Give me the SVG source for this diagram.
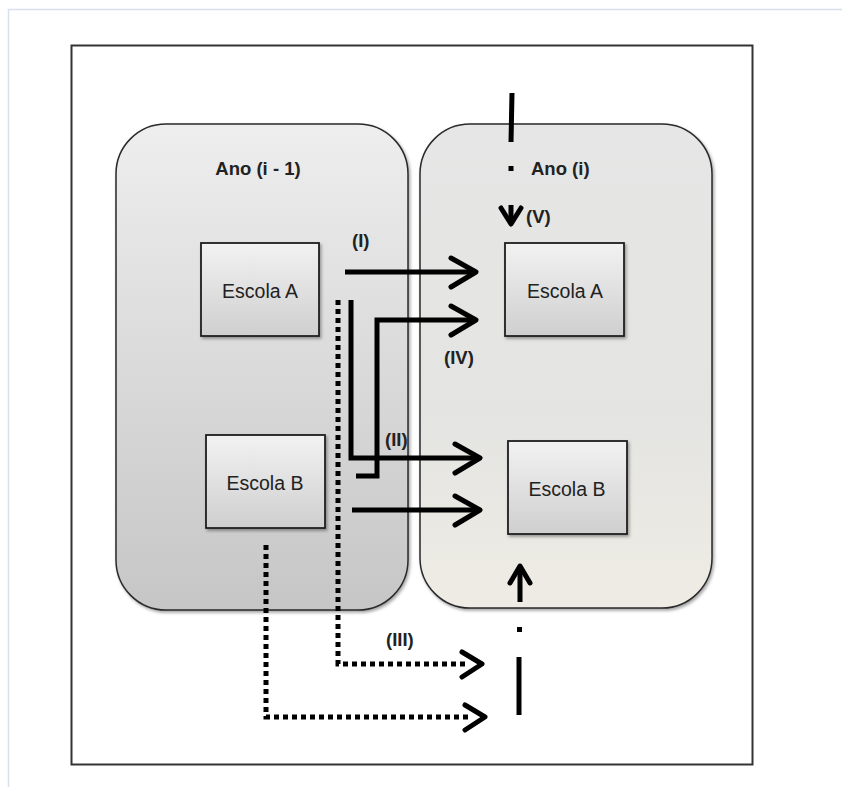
<svg xmlns="http://www.w3.org/2000/svg" width="842" height="787" viewBox="0 0 842 787">
<defs>
<linearGradient id="gL" x1="0" y1="0" x2="0" y2="1"><stop offset="0" stop-color="#eeeeee"/><stop offset="1" stop-color="#c6c6c6"/></linearGradient>
<linearGradient id="gR" x1="0" y1="0" x2="0" y2="1"><stop offset="0" stop-color="#e6e6e6"/><stop offset="0.6" stop-color="#e4e4e2"/><stop offset="1" stop-color="#eeece4"/></linearGradient>
<linearGradient id="gB" x1="0" y1="0" x2="0" y2="1"><stop offset="0" stop-color="#f2f2f2"/><stop offset="1" stop-color="#cfcfcf"/></linearGradient>
<filter id="sh" x="-10%" y="-10%" width="130%" height="130%"><feDropShadow dx="1.5" dy="2" stdDeviation="1.5" flood-color="#000" flood-opacity="0.35"/></filter>
</defs>
<style>
.grp{stroke:#2a2a2a;stroke-width:1.5;filter:url(#sh)}
.box{fill:url(#gB);stroke:#1e1e1e;stroke-width:1.8;filter:url(#sh)}
.t{font-family:"Liberation Sans",Arial,sans-serif;fill:#222;font-size:19.5px;text-anchor:middle}
.bold{font-family:"Liberation Sans",Arial,sans-serif;font-weight:bold;fill:#222;font-size:18.5px}
.c{fill:none;stroke:#000;stroke-width:5}
.d{fill:none;stroke:#000;stroke-width:5;stroke-dasharray:5 4}
.hd{fill:none;stroke:#000;stroke-width:5;stroke-linecap:round;stroke-linejoin:round}
</style>
<rect x="0" y="0" width="842" height="787" fill="#fff"/>
<path d="M8.5,787 L8.5,9.5 L842,9.5" fill="none" stroke="#d8e0ee" stroke-width="1.5"/>
<rect x="71.5" y="45.5" width="681" height="719" fill="#fff" stroke="#333" stroke-width="2"/>

<g id="ano_i1">
<rect class="grp" x="116" y="124" width="292" height="486" rx="50" ry="50" fill="url(#gL)"/>
<text class="bold" x="258" y="175" text-anchor="middle">Ano (i - 1)</text>
</g>
<g id="ano_i">
<rect class="grp" x="420" y="124" width="292" height="484" rx="50" ry="50" fill="url(#gR)"/>
<text class="bold" x="531" y="175">Ano (i)</text>
</g>
<g id="escolaA_left">
<rect class="box" x="201" y="243" width="118" height="93"/>
<text class="t" x="260" y="298">Escola A</text>
</g>
<g id="escolaB_left">
<rect class="box" x="206" y="435" width="119" height="93"/>
<text class="t" x="265" y="490">Escola B</text>
</g>
<g id="escolaA_right">
<rect class="box" x="505" y="243" width="119" height="93"/>
<text class="t" x="565" y="298">Escola A</text>
</g>
<g id="escolaB_right">
<rect class="box" x="508" y="441" width="119" height="93"/>
<text class="t" x="567" y="496">Escola B</text>
</g>

<g id="connectors">
<!-- (I) -->
<path class="c" d="M345,272 L474,272"/>
<path class="hd" d="M451,258 L476,272 L451,287"/>
<text class="bold" x="352" y="247">(I)</text>
<!-- (IV) -->
<path class="c" d="M356,476 L377,476 L377,320 L474,320"/>
<path class="hd" d="M451,306 L476,320 L451,335"/>
<text class="bold" x="444" y="364">(IV)</text>
<!-- (II) -->
<path class="c" d="M351,300 L351,458 L478,458"/>
<path class="hd" d="M455,444 L480,458 L455,473"/>
<text class="bold" x="385" y="446">(II)</text>
<!-- from Escola B to right -->
<path class="c" d="M352,510 L478,510"/>
<path class="hd" d="M455,496 L480,510 L455,525"/>
<!-- (III) dotted from Escola A -->
<path class="d" d="M338,300 L338,664 L466,664"/>
<path class="hd" d="M462,652 L482,664 L462,677"/>
<text class="bold" x="386" y="646">(III)</text>
<!-- dotted from Escola B -->
<path class="d" d="M266,545 L266,717 L468,717"/>
<path class="hd" d="M465,705 L485,717 L465,730"/>
<!-- (V) top entry -->
<path class="c" d="M512,93 L511,142" stroke-width="4"/>
<rect x="508.5" y="166" width="5" height="5" fill="#000"/>
<path class="c" d="M511,205 L511,222"/>
<path class="hd" d="M501,208 L511,224 L521,208"/>
<text class="bold" x="526" y="223">(V)</text>
<!-- bottom entry -->
<path class="c" d="M519,715 L519,657" stroke-width="4"/>
<rect x="517" y="627" width="5" height="5" fill="#000"/>
<path class="c" d="M520,602 L520,568"/>
<path class="hd" d="M510,583 L520,566 L530,583"/>
</g>
</svg>
